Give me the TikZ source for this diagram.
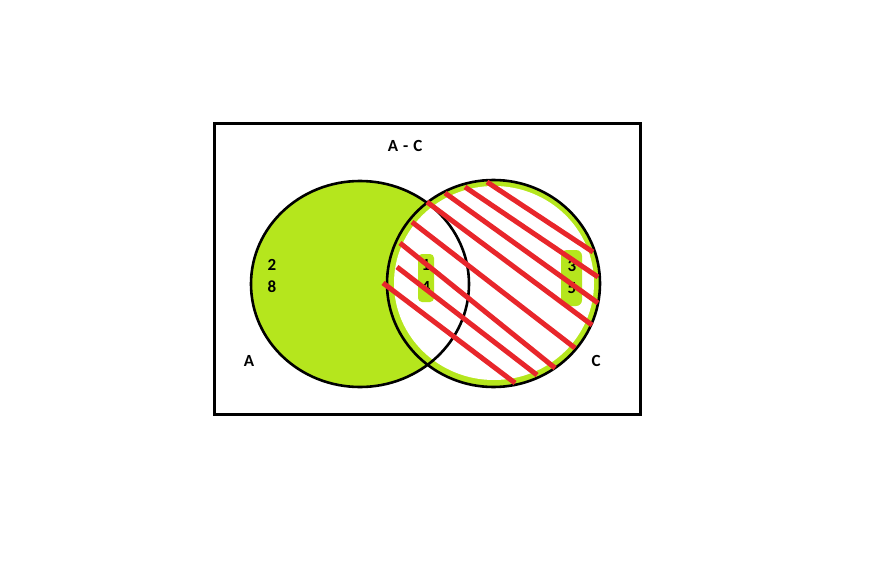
\documentclass[tikz,border=0pt]{standalone}
\usepackage{fontspec}
\setmainfont{Carlito}
\definecolor{lime}{HTML}{B5E61D}
\definecolor{hatch}{HTML}{E8262B}
\tikzset{
  lbl/.style={font=\fontsize{17}{19}\selectfont\bfseries, text=black, inner sep=0pt},
  outline/.style={draw=black, line width=2.6pt},
  hatchline/.style={draw=hatch, line width=5pt},
}
\begin{document}
\begin{tikzpicture}[x=1pt,y=-1pt]
\useasboundingbox[fill=white] (0,0) rectangle (889,562);
% frame
\draw[line width=3pt] (214,123) rectangle (640,414);
% fills
\fill[lime] (360,284) ellipse [x radius=109, y radius=103];
\fill[lime] (493.5,283.5) ellipse [x radius=106.5, y radius=103.5];
\fill[white] (494,283) ellipse [x radius=100, y radius=97];
% green patches behind numbers in C
\fill[lime, rounded corners=4pt] (418,254) rectangle (434,302);
\fill[lime, rounded corners=6pt] (561,250) rectangle (582,306);
% texts
\node[lbl] (ac) at (405,146) {A\hspace{5pt}-\hspace{5pt}C};
\node[lbl] (n2) at (272,265) {2};
\node[lbl] (n8) at (272,287) {8};
\node[lbl] (la) at (249,361) {A};
\node[lbl] (lc) at (596,361) {C};
\node[lbl] (n1) at (426,265) {1};
\node[lbl] (n4) at (426,287) {4};
\node[lbl] (n3) at (572,266) {3};
\node[lbl] (n5) at (572,288) {5};
% outlines
\draw[outline] (360,284) ellipse [x radius=109, y radius=103];
\draw[outline] (493.5,283.5) ellipse [x radius=106.5, y radius=103.5];
% hatch lines
\draw[hatchline] (487,182) -- (593,252);
\draw[hatchline] (465,187) -- (598,277);
\draw[hatchline] (445,193) -- (598,303);
\draw[hatchline] (427,202) -- (592,325);
\draw[hatchline] (412,222) -- (575,348);
\draw[hatchline] (400,243) -- (555,368);
\draw[hatchline] (397,267) -- (537,375);
\draw[hatchline] (383,283) -- (515,383);
\end{tikzpicture}
\end{document}
